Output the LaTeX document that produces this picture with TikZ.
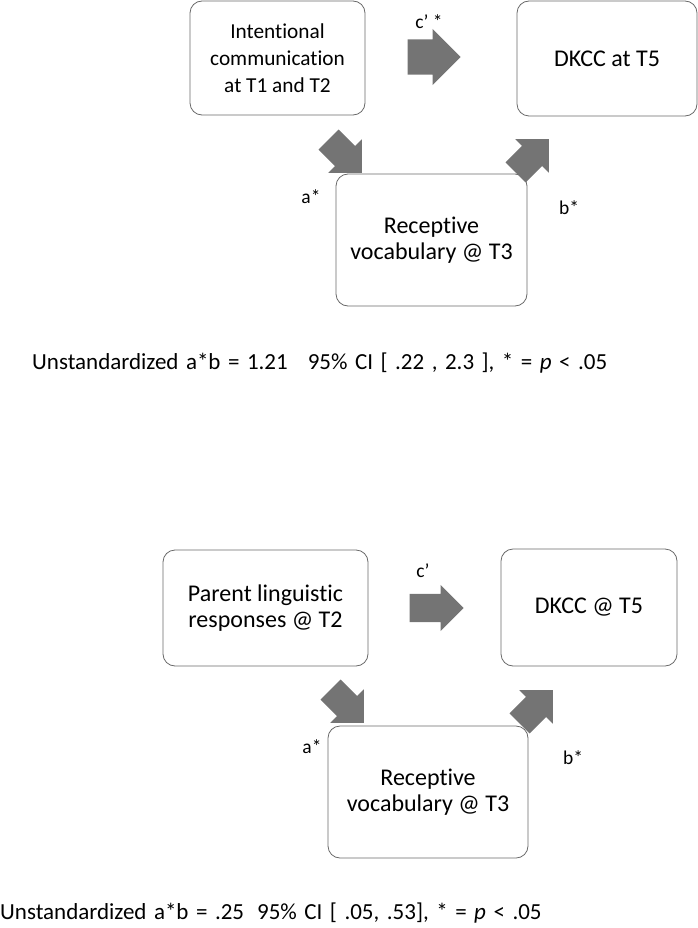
\documentclass[tikz,border=0pt]{standalone}
\usepackage{fontspec}
\setmainfont{Carlito}[Ligatures=CommonOff]
\usetikzlibrary{shapes.arrows}
\definecolor{arrowgray}{RGB}{116,116,116}
\definecolor{boxline}{RGB}{105,105,105}
\newcommand{\boxfont}{\fontsize{24}{26}\selectfont}
\newcommand{\smallboxfont}{\fontsize{21.3}{27}\selectfont}
\newcommand{\labfont}{\fontsize{19.5}{21}\selectfont}
\newcommand{\notefont}{\fontsize{23}{26}\selectfont\spaceskip=7.5pt plus 1pt}
\tikzset{
  box/.style={draw=boxline, line width=0.8pt, rounded corners=12pt, fill=white,
    align=center, inner sep=0pt, font=\boxfont},
  lab/.style={inner sep=0pt, font=\labfont},
  note/.style={inner sep=0pt, font=\notefont, anchor=west},
  arrowbase/.style={single arrow, fill=arrowgray, draw=none, inner xsep=0pt, anchor=tip},
  bigarrow/.style={arrowbase, inner ysep=17.5pt, minimum height=53pt, single arrow head extend=10.5pt},
  midarrow/.style={arrowbase, inner ysep=14pt, minimum height=54pt, single arrow head extend=9pt},
  diagarrow/.style={arrowbase, inner ysep=14pt, minimum height=47pt, single arrow head extend=9.5pt},
}
\begin{document}
\begin{tikzpicture}[x=1pt,y=1pt]
\useasboundingbox (0,0) rectangle (698,-928);
% ---- top diagram ----
\node[box, font=\smallboxfont, minimum width=175pt, minimum height=114pt] (ic) at (277.5,-58) {Intentional\\communication\\at T1 and T2};
\node[box, minimum width=180pt, minimum height=115pt] (dk1) at (607,-58.5) {DKCC at T5};
\node[box, minimum width=191pt, minimum height=132pt] (rv1) at (431.5,-240) {Receptive\\vocabulary @ T3};
\node[bigarrow] (c1) at (461,-57) {};
\node[diagarrow, rotate=-45] (a1) at (362,-173) {};
\node[diagarrow, rotate=45] (b1) at (549,-139) {};
\node[lab] (lc1) at (429,-22) {c’ *};
\node[lab] (la1) at (311,-197) {a*};
\node[lab] (lb1) at (569,-208) {b*};
\node[note] (n1) at (32,-363) {Unstandardized a*b = 1.21\hspace{20pt}95\% CI [ .22 , 2.3 ], * = \textit{p} < .05};
% ---- bottom diagram ----
\node[box, minimum width=205pt, minimum height=116pt] (pl) at (265.5,-608) {Parent linguistic\\responses @ T2};
\node[box, minimum width=176pt, minimum height=117pt] (dk2) at (589,-607.5) {DKCC @ T5};
\node[box, minimum width=200pt, minimum height=132pt] (rv2) at (428,-792) {Receptive\\vocabulary @ T3};
\node[midarrow] (c2) at (464,-608) {};
\node[diagarrow, rotate=-45] (a2) at (364,-723) {};
\node[diagarrow, rotate=45] (b2) at (553,-690) {};
\node[lab] (lc2) at (423,-571) {c’};
\node[lab] (la2) at (312,-747) {a*};
\node[lab] (lb2) at (573,-758) {b*};
\node[note] (n2) at (0,-913) {Unstandardized a*b = .25\hspace{13pt}95\% CI [ .05, .53], * = \textit{p} < .05};
\end{tikzpicture}
\end{document}
